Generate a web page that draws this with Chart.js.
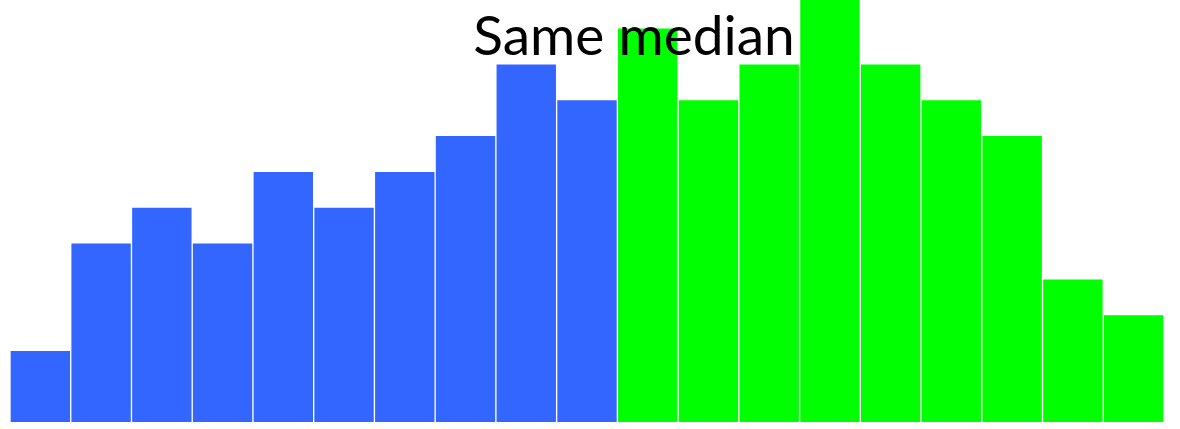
<!DOCTYPE html>
<html>
<head>
<meta charset="utf-8">
<script src="https://cdn.jsdelivr.net/npm/chart.js@4.4.1/dist/chart.umd.min.js"></script>
<style>
  html, body { margin: 0; padding: 0; background: #ffffff; }
  #wrap { width: 1180px; height: 429px; }
</style>
</head>
<body>
<div id="wrap"><canvas id="medianChart"></canvas></div>
<script>
// Bins of the histogram (19 bins, left half blue, right half green)
const bins = ['1','2','3','4','5','6','7','8','9','10','11','12','13','14','15','16','17','18','19'];
const counts = [2, 5, 6, 5, 7, 6, 7, 8, 10, 9, 11, 9, 10, 12, 10, 9, 8, 4, 3];
const blueCount = 10;
const yMax = 11.78;   // the tallest bin runs off the top
const titleText = 'Same median';

const barColors = counts.map((c, i) => i < blueCount ? '#3366ff' : '#00ff00');

// Titulo dibujado encima de las barras
const overlayTitle = {
    id: 'overlayTitle',
    afterDatasetsDraw(chart) {
        const ctx = chart.ctx;
        ctx.save();
        ctx.font = '55px Lato';
        ctx.fillStyle = '#000000';
        ctx.textAlign = 'center';
        ctx.textBaseline = 'alphabetic';
        ctx.fillText(titleText, 634, 55);
        ctx.restore();
    }
};

const ctx = document.getElementById('medianChart').getContext('2d');
new Chart(ctx, {
    type: 'bar',
    data: {
        labels: bins,
        datasets: [{
            data: counts,
            backgroundColor: barColors,
            borderColor: 'rgba(255, 255, 255, 0.85)',
            borderWidth: 1,
            barPercentage: 1,
            categoryPercentage: 1
        }]
    },
    options: {
        responsive: true,
        maintainAspectRatio: false,
        animation: false,
        layout: {
            padding: { left: 10, right: 16, top: 0, bottom: 7 }
        },
        plugins: {
            legend: { display: false },
            tooltip: { enabled: false },
            title: { display: false }
        },
        scales: {
            x: { display: false },
            y: { display: false, min: 0, max: yMax }
        }
    },
    plugins: [overlayTitle]
});
</script>
</body>
</html>
